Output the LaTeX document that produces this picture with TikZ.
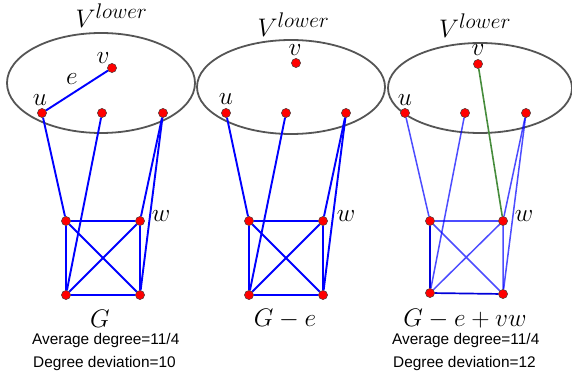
\documentclass[tikz,border=0pt]{standalone}
\usepackage{fontspec}
\newfontfamily\arialf{Liberation Sans}
\definecolor{ellgray}{RGB}{85,85,85}
\definecolor{edgeblue}{RGB}{0,0,255}
\definecolor{edgegreen}{RGB}{70,140,60}
\newcommand{\mlab}[1]{\scalebox{1.02}{$#1$}}
\tikzset{
  vert/.style={circle,fill=red,draw=black!70,line width=0.4pt,inner sep=0pt,minimum size=9pt},
  ell/.style={draw=ellgray,line width=1.8pt},
  eb/.style={draw=edgeblue,line width=1.9pt},
  ebl/.style={draw=edgeblue,opacity=0.7,line width=1.5pt},
  ebd/.style={draw=edgeblue!85!black,line width=1.7pt},
  eg/.style={draw=edgegreen,line width=1.6pt},
  lab/.style={inner sep=0pt,font=\fontsize{24.88}{30}\selectfont},
  info/.style={inner sep=0pt,anchor=base west,font=\arialf\fontsize{15.4}{18}\selectfont}
}
\begin{document}
\begin{tikzpicture}[x=1pt,y=-1pt]
\useasboundingbox (0,0) rectangle (572,371);
% ---------- panel 1 ----------
\draw[ell] (101,83) ellipse [x radius=94, y radius=50];
\node[lab,anchor=base] (V1) at (111.5,28) {\mlab{V^{lower}}};
\node[vert] (v1) at (112,68) {};
\node[vert] (u1) at (42,113) {};
\node[vert] (m1) at (102,113) {};
\node[vert] (r1) at (163,113) {};
\node[vert] (a1) at (66,221) {};
\node[vert] (b1) at (140,221) {};
\node[vert] (c1) at (66,295) {};
\node[vert] (d1) at (140,295) {};
\draw[eb] (u1) -- (v1);
\draw[eb] (u1) -- (a1);
\draw[eb] (m1) -- (c1);
\draw[eb] (r1) -- (b1);
\draw[eb] (r1) -- (d1);
\draw[eb] (a1) -- (b1) (a1) -- (c1) (a1) -- (d1) (b1) -- (c1) (b1) -- (d1) (c1) -- (d1);
\foreach \n in {v1,u1,m1,r1,a1,b1,c1,d1} \node[vert] at (\n) {};
\node[lab] (lv1) at (103,58) {\mlab{v}};
\node[lab] (lu1) at (40,100) {\mlab{u}};
\node[lab] (le1) at (72,79) {\mlab{e}};
\node[lab] (lw1) at (161,216) {\mlab{w}};
\node[lab,anchor=base] (G1) at (100,327) {\mlab{G}};
\node[info] (avg1) at (32,344) {Average degree=11/4};
\node[info] (dev1) at (33,367) {Degree deviation=10};
% ---------- panel 2 ----------
\draw[ell] (291,87) ellipse [x radius=94, y radius=47];
\node[lab,anchor=base] (V2) at (293.5,37) {\mlab{V^{lower}}};
\node[vert] (v2) at (296,63) {};
\node[vert] (u2) at (226,113) {};
\node[vert] (m2) at (286,113) {};
\node[vert] (r2) at (346,113) {};
\node[vert] (a2) at (249,221) {};
\node[vert] (b2) at (323,221) {};
\node[vert] (c2) at (249,295) {};
\node[vert] (d2) at (323,295) {};
\draw[eb] (u2) -- (a2);
\draw[eb] (m2) -- (c2);
\draw[eb] (r2) -- (b2);
\draw[eb] (r2) -- (d2);
\draw[eb] (a2) -- (b2) (a2) -- (c2) (a2) -- (d2) (b2) -- (c2) (b2) -- (d2) (c2) -- (d2);
\foreach \n in {v2,u2,m2,r2,a2,b2,c2,d2} \node[vert] at (\n) {};
\node[lab] (lv2) at (295,50) {\mlab{v}};
\node[lab] (lu2) at (226,99) {\mlab{u}};
\node[lab] (lw2) at (346,216) {\mlab{w}};
\node[lab,anchor=base] (G2) at (285,326) {\mlab{G-e}};
% ---------- panel 3 ----------
\draw[ell] (480,88) ellipse [x radius=92, y radius=45];
\node[lab,anchor=base] (V3) at (475,38) {\mlab{V^{lower}}};
\node[vert] (v3) at (478,64) {};
\node[vert] (u3) at (405,113) {};
\node[vert] (m3) at (465,113) {};
\node[vert] (r3) at (526,113) {};
\node[vert] (a3) at (430,221) {};
\node[vert] (b3) at (503,221) {};
\node[vert] (c3) at (430,293) {};
\node[vert] (d3) at (503,294) {};
\draw[ebl] (u3) -- (a3);
\draw[ebl] (m3) -- (c3);
\draw[ebl] (r3) -- (b3);
\draw[ebl] (r3) -- (d3);
\draw[ebl] (a3) -- (b3) (a3) -- (d3) (b3) -- (c3) (b3) -- (d3);
\draw[ebd] (a3) -- (c3) (c3) -- (d3);
\draw[eg] (v3) -- (b3);
\foreach \n in {v3,u3,m3,r3,a3,b3,c3,d3} \node[vert] at (\n) {};
\node[lab] (lv3) at (478,50) {\mlab{v}};
\node[lab] (lu3) at (405,100) {\mlab{u}};
\node[lab] (lw3) at (524,216) {\mlab{w}};
\node[lab,anchor=base] (G3) at (465,326) {\mlab{G-e+vw}};
\node[info] (avg3) at (392,344) {Average degree=11/4};
\node[info] (dev3) at (393,367) {Degree deviation=12};
\end{tikzpicture}
\end{document}
